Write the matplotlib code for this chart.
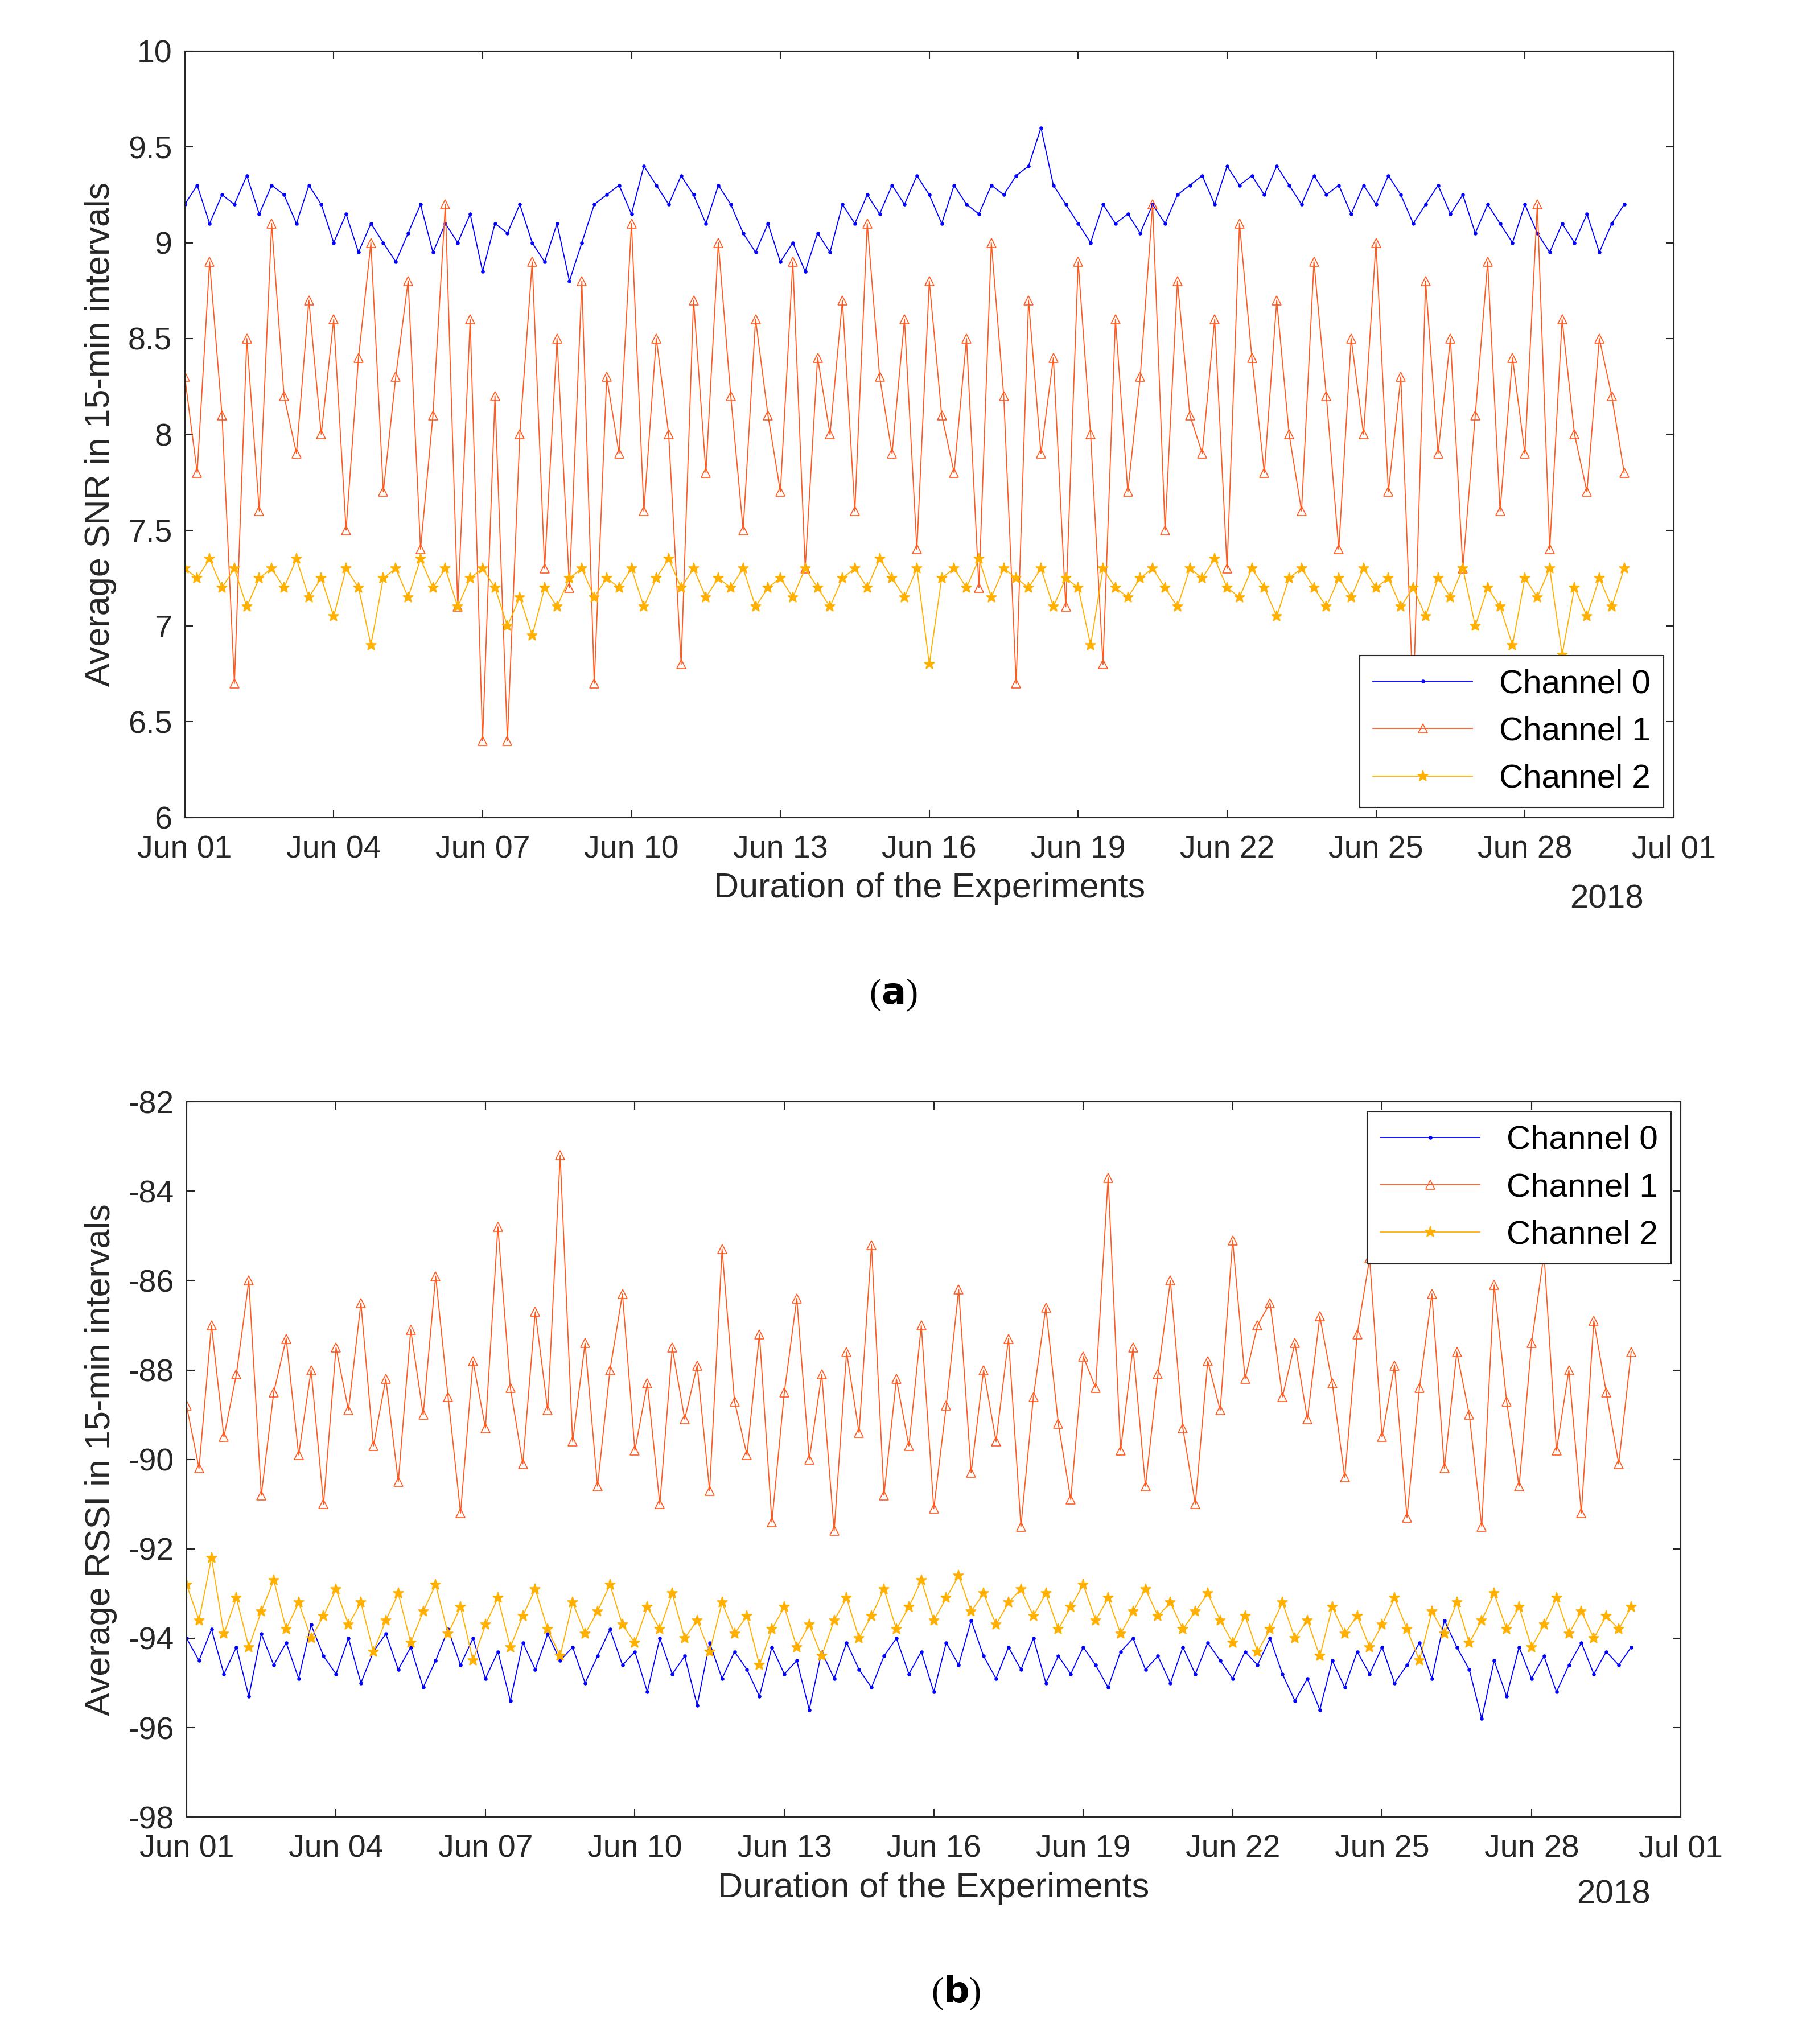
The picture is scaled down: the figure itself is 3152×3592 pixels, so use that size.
import numpy as np
import matplotlib
matplotlib.use("Agg")
import matplotlib.pyplot as plt
import matplotlib.dates as mdates
import datetime as dt

# --- data (6-hourly samples) ---
snr_ch0 = [9.2,9.3,9.1,9.25,9.2,9.35,9.15,9.3,9.25,9.1,9.3,9.2,9.0,9.15,8.95,9.1,9.0,8.9,9.05,9.2,8.95,9.1,9.0,9.15,8.85,9.1,9.05,9.2,9.0,8.9,9.1,8.8,9.0,9.2,9.25,9.3,9.15,9.4,9.3,9.2,9.35,9.25,9.1,9.3,9.2,9.05,8.95,9.1,8.9,9.0,8.85,9.05,8.95,9.2,9.1,9.25,9.15,9.3,9.2,9.35,9.25,9.1,9.3,9.2,9.15,9.3,9.25,9.35,9.4,9.6,9.3,9.2,9.1,9.0,9.2,9.1,9.15,9.05,9.2,9.1,9.25,9.3,9.35,9.2,9.4,9.3,9.35,9.25,9.4,9.3,9.2,9.35,9.25,9.3,9.15,9.3,9.2,9.35,9.25,9.1,9.2,9.3,9.15,9.25,9.05,9.2,9.1,9.0,9.2,9.05,8.95,9.1,9.0,9.15,8.95,9.1,9.2]
snr_ch1 = [8.3,7.8,8.9,8.1,6.7,8.5,7.6,9.1,8.2,7.9,8.7,8.0,8.6,7.5,8.4,9.0,7.7,8.3,8.8,7.4,8.1,9.2,7.1,8.6,6.4,8.2,6.4,8.0,8.9,7.3,8.5,7.2,8.8,6.7,8.3,7.9,9.1,7.6,8.5,8.0,6.8,8.7,7.8,9.0,8.2,7.5,8.6,8.1,7.7,8.9,7.3,8.4,8.0,8.7,7.6,9.1,8.3,7.9,8.6,7.4,8.8,8.1,7.8,8.5,7.2,9.0,8.2,6.7,8.7,7.9,8.4,7.1,8.9,8.0,6.8,8.6,7.7,8.3,9.2,7.5,8.8,8.1,7.9,8.6,7.3,9.1,8.4,7.8,8.7,8.0,7.6,8.9,8.2,7.4,8.5,8.0,9.0,7.7,8.3,6.6,8.8,7.9,8.5,7.3,8.1,8.9,7.6,8.4,7.9,9.2,7.4,8.6,8.0,7.7,8.5,8.2,7.8]
snr_ch2 = [7.3,7.25,7.35,7.2,7.3,7.1,7.25,7.3,7.2,7.35,7.15,7.25,7.05,7.3,7.2,6.9,7.25,7.3,7.15,7.35,7.2,7.3,7.1,7.25,7.3,7.2,7.0,7.15,6.95,7.2,7.1,7.25,7.3,7.15,7.25,7.2,7.3,7.1,7.25,7.35,7.2,7.3,7.15,7.25,7.2,7.3,7.1,7.2,7.25,7.15,7.3,7.2,7.1,7.25,7.3,7.2,7.35,7.25,7.15,7.3,6.8,7.25,7.3,7.2,7.35,7.15,7.3,7.25,7.2,7.3,7.1,7.25,7.2,6.9,7.3,7.2,7.15,7.25,7.3,7.2,7.1,7.3,7.25,7.35,7.2,7.15,7.3,7.2,7.05,7.25,7.3,7.2,7.1,7.25,7.15,7.3,7.2,7.25,7.1,7.2,7.05,7.25,7.15,7.3,7.0,7.2,7.1,6.9,7.25,7.15,7.3,6.85,7.2,7.05,7.25,7.1,7.3]

rssi_ch0 = [-94.0,-94.5,-93.8,-94.8,-94.2,-95.3,-93.9,-94.6,-94.1,-94.9,-93.7,-94.4,-94.8,-94.0,-95.0,-94.3,-93.9,-94.7,-94.2,-95.1,-94.5,-93.8,-94.6,-94.0,-94.9,-94.3,-95.4,-94.1,-94.7,-93.9,-94.5,-94.2,-95.0,-94.4,-93.8,-94.6,-94.3,-95.2,-94.0,-94.8,-94.4,-95.5,-94.1,-94.9,-94.3,-94.7,-95.3,-94.2,-94.8,-94.5,-95.6,-94.3,-94.9,-94.1,-94.7,-95.1,-94.4,-94.0,-94.8,-94.3,-95.2,-94.1,-94.6,-93.6,-94.4,-94.9,-94.2,-94.7,-94.0,-95.0,-94.4,-94.8,-94.2,-94.6,-95.1,-94.3,-94.0,-94.7,-94.4,-95.0,-94.2,-94.8,-94.1,-94.5,-94.9,-94.3,-94.6,-94.0,-94.8,-95.4,-94.9,-95.6,-94.5,-95.1,-94.3,-94.8,-94.2,-95.0,-94.6,-94.1,-94.9,-93.6,-94.2,-94.7,-95.8,-94.5,-95.3,-94.2,-94.9,-94.4,-95.2,-94.6,-94.1,-94.8,-94.3,-94.6,-94.2]
rssi_ch1 = [-88.8,-90.2,-87.0,-89.5,-88.1,-86.0,-90.8,-88.5,-87.3,-89.9,-88.0,-91.0,-87.5,-88.9,-86.5,-89.7,-88.2,-90.5,-87.1,-89.0,-85.9,-88.6,-91.2,-87.8,-89.3,-84.8,-88.4,-90.1,-86.7,-88.9,-83.2,-89.6,-87.4,-90.6,-88.0,-86.3,-89.8,-88.3,-91.0,-87.5,-89.1,-87.9,-90.7,-85.3,-88.7,-89.9,-87.2,-91.4,-88.5,-86.4,-90.0,-88.1,-91.6,-87.6,-89.4,-85.2,-90.8,-88.2,-89.7,-87.0,-91.1,-88.8,-86.2,-90.3,-88.0,-89.6,-87.3,-91.5,-88.6,-86.6,-89.2,-90.9,-87.7,-88.4,-83.7,-89.8,-87.5,-90.6,-88.1,-86.0,-89.3,-91.0,-87.8,-88.9,-85.1,-88.2,-87.0,-86.5,-88.6,-87.4,-89.1,-86.8,-88.3,-90.4,-87.2,-85.5,-89.5,-87.9,-91.3,-88.4,-86.3,-90.2,-87.6,-89.0,-91.5,-86.1,-88.7,-90.6,-87.4,-85.4,-89.8,-88.0,-91.2,-86.9,-88.5,-90.1,-87.6]
rssi_ch2 = [-92.8,-93.6,-92.2,-93.9,-93.1,-94.2,-93.4,-92.7,-93.8,-93.2,-94.0,-93.5,-92.9,-93.7,-93.2,-94.3,-93.6,-93.0,-94.1,-93.4,-92.8,-93.9,-93.3,-94.5,-93.7,-93.1,-94.2,-93.5,-92.9,-93.8,-94.4,-93.2,-93.9,-93.4,-92.8,-93.7,-94.1,-93.3,-93.8,-93.0,-94.0,-93.6,-94.3,-93.2,-93.9,-93.5,-94.6,-93.8,-93.3,-94.2,-93.7,-94.4,-93.6,-93.1,-94.0,-93.5,-92.9,-93.8,-93.3,-92.7,-93.6,-93.1,-92.6,-93.4,-93.0,-93.7,-93.2,-92.9,-93.5,-93.0,-93.8,-93.3,-92.8,-93.6,-93.1,-93.9,-93.4,-92.9,-93.5,-93.2,-93.8,-93.4,-93.0,-93.6,-94.1,-93.5,-94.3,-93.8,-93.2,-94.0,-93.6,-94.4,-93.3,-93.9,-93.5,-94.2,-93.7,-93.1,-93.8,-94.5,-93.4,-93.9,-93.2,-94.1,-93.6,-93.0,-93.8,-93.3,-94.2,-93.7,-93.1,-93.9,-93.4,-94.0,-93.5,-93.8,-93.3]

labels = ["Channel 0", "Channel 1", "Channel 2"]
colors = ["#0000FF", "#FF5A1F", "#FFB000"]
markers = [".", "^", "*"]

start = dt.datetime(2018, 6, 1)
end_data = dt.datetime(2018, 6, 30)


def times(vals):
    t0 = mdates.date2num(start)
    t1 = mdates.date2num(end_data)
    return np.linspace(t0, t1, len(vals))


plt.rcParams["font.family"] = "Liberation Sans"
FS = 40

fig = plt.figure(figsize=(31.52, 35.92), dpi=100)
ax_a = fig.add_axes([0.103, 0.600, 0.830, 0.375])
ax_b = fig.add_axes([0.104, 0.111, 0.833, 0.350])


def draw(ax, series, ylim, yticks, ylabel, loc):
    for vals, lab, c, m in zip(series, labels, colors, markers):
        ms = 12 if m == "^" else (14 if m == "*" else 7)
        ax.plot(times(vals), vals, color=c, marker=m, markersize=ms,
                markerfacecolor="none" if m == "^" else c,
                markeredgewidth=1.2, linewidth=1.3, label=lab)
    ax.set_xlim(mdates.date2num(start), mdates.date2num(dt.datetime(2018, 7, 1)))
    ax.set_ylim(*ylim)
    ax.set_yticks(yticks)
    ax.set_yticklabels([f"{v:g}" for v in yticks])
    ticks = [mdates.date2num(start + dt.timedelta(days=3 * i)) for i in range(10)]
    ticks.append(mdates.date2num(dt.datetime(2018, 7, 1)))
    ax.set_xticks(ticks)
    ax.xaxis.set_major_formatter(mdates.DateFormatter("%b %d"))
    ax.tick_params(labelsize=FS, length=10, width=1.5, colors="#262626", direction="in",
                   top=True, right=True)
    ax.tick_params(axis="x", pad=22)
    ax.tick_params(axis="y", pad=16)
    for s in ax.spines.values():
        s.set_color("#262626")
        s.set_linewidth(1.5)
    ax.set_xlabel("Duration of the Experiments", fontsize=FS + 4, color="#262626", labelpad=10)
    ax.set_ylabel(ylabel, fontsize=FS + 4, color="#262626", labelpad=14)
    ax.text(0.955, -0.087, "2018", transform=ax.transAxes, fontsize=FS + 2,
            color="#262626", ha="center", va="top")
    leg = ax.legend(loc=loc, fontsize=FS + 2, handlelength=3, fancybox=False,
                    framealpha=1, borderaxespad=0.3)
    leg.get_frame().set_edgecolor("#262626")
    leg.get_frame().set_linewidth(1.5)


draw(ax_a, [snr_ch0, snr_ch1, snr_ch2], (6, 10), np.arange(6, 10.01, 0.5),
     "Average SNR in 15-min intervals", "lower right")
draw(ax_b, [rssi_ch0, rssi_ch1, rssi_ch2], (-98, -82), np.arange(-98, -81, 2),
     "Average RSSI in 15-min intervals", "upper right")

for letter, x, y in [("a", 0.498, 0.513), ("b", 0.533, 0.025)]:
    fig.text(x, y, rf"($\mathbf{{{letter}}}$)", fontsize=46, family="Liberation Serif",
             ha="center", va="center")

fig.savefig("out.png", dpi=100, facecolor="white")
